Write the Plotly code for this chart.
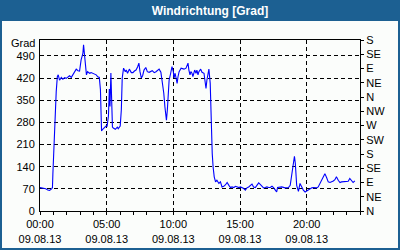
import pandas as pd
import plotly.graph_objects as go

# ---- data (minutes after 00:00 on 09.08.2013, wind direction in degrees) ----
minutes = [0, 8, 17, 26, 35, 43, 52, 56, 58, 63, 69, 73, 78, 82, 88, 96, 103, 111, 118, 126,
           133, 141, 148, 156, 163, 171, 178, 185, 193, 196, 200, 205, 209, 214, 223, 230, 238,
           245, 253, 260, 267, 272, 275, 277, 282, 290, 297, 302, 308, 312, 315, 319, 322, 326,
           330, 339, 348, 352, 361, 366, 370, 376, 384, 388, 394, 402, 411, 418, 425, 432, 439,
           445, 450, 456, 462, 468, 476, 483, 491, 505, 514, 522, 536, 544, 549, 557, 562, 569,
           573, 581, 588, 594, 600, 603, 608, 612, 617, 621, 626, 635, 648, 657, 666, 670, 675,
           679, 684, 688, 696, 702, 706, 711, 715, 723, 729, 738, 742, 747, 751, 756, 760, 766,
           769, 775, 779, 784, 790, 796, 805, 812, 819, 827, 835, 842, 850, 857, 864, 872, 880,
           887, 895, 902, 909, 917, 924, 931, 939, 947, 954, 961, 969, 976, 984, 991, 999, 1006,
           1014, 1021, 1029, 1036, 1044, 1051, 1059, 1065, 1069, 1073, 1088, 1103, 1118, 1126,
           1133, 1139, 1145, 1149, 1153, 1155, 1163, 1170, 1178, 1185, 1193, 1200, 1208, 1215,
           1223, 1230, 1238, 1245, 1252, 1260, 1267, 1275, 1282, 1290, 1297, 1305, 1312, 1320,
           1327, 1334, 1342, 1350, 1357, 1364, 1372, 1379, 1387, 1394, 1402, 1409, 1417]
direction = [74, 73, 72, 70, 66, 65, 70, 74, 118, 214, 308, 377, 424, 430, 413, 422, 416, 421, 419, 422,
             427, 422, 432, 440, 448, 443, 442, 477, 498, 525, 488, 445, 430, 440, 435, 437, 435,
             432, 430, 424, 422, 382, 329, 253, 258, 264, 268, 268, 300, 385, 330, 436, 380, 265,
             262, 258, 265, 260, 268, 320, 420, 451, 440, 445, 435, 448, 437, 437, 442, 445, 455,
             467, 440, 420, 428, 445, 453, 440, 438, 443, 437, 440, 448, 438, 413, 372, 329, 287,
             318, 413, 435, 456, 440, 420, 435, 413, 403, 424, 440, 451, 448, 451, 467, 445, 430,
             440, 435, 424, 445, 435, 445, 430, 440, 448, 438, 435, 416, 387, 413, 435, 448, 403,
             287, 182, 139, 108, 92, 97, 87, 92, 76, 78, 83, 90, 81, 74, 76, 74, 78,
             76, 74, 76, 74, 71, 66, 73, 76, 81, 85, 76, 74, 81, 89, 84, 78, 73,
             74, 76, 74, 74, 78, 74, 66, 60, 74, 74, 76, 73, 74, 81,
             118, 150, 173, 150, 108, 81, 62, 87, 76, 66, 60, 63, 66, 71,
             73, 74, 74, 73, 76, 87, 99, 108, 118, 105, 92, 90, 92, 95,
             99, 108, 97, 90, 92, 92, 94, 92, 94, 103, 97, 90, 95]

left_ticks = [0, 70, 140, 210, 280, 350, 420, 490]
right_ticks = [0, 45, 90, 135, 180, 225, 270, 315, 360, 405, 450, 495, 540]
right_labels = ["N", "NE", "E", "SE", "S", "SW", "W", "NW", "N", "NE", "E", "SE", "S"]

title_text = "Windrichtung [Grad]"
unit_text = "Grad"

times = pd.Timestamp("2013-08-09") + pd.to_timedelta(minutes, unit="m")

BLUE = "#1c6092"
WHITE = "#fbfdfb"
FONT = "Liberation Sans, Arial, sans-serif"

fig = go.Figure()
fig.add_trace(go.Scatter(x=times, y=direction, mode="lines",
                         line=dict(color="#0000ff", width=1.1), showlegend=False,
                         hoverinfo="skip"))
fig.add_trace(go.Scatter(x=times, y=direction, mode="lines", yaxis="y2",
                         line=dict(color="rgba(0,0,0,0)", width=0), showlegend=False,
                         hoverinfo="skip"))

W, H = 400, 250
L, R, T, B = 40, 40, 40, 39
pw, ph = W - L - R, H - T - B

def px_x(p):
    return (p - L) / pw

def px_y(p):
    return (H - B - p) / ph

fig.add_shape(type="rect", xref="paper", yref="paper",
              x0=px_x(2), x1=px_x(398), y0=px_y(248), y1=px_y(21),
              fillcolor=WHITE, line=dict(width=0), layer="below")

fig.add_annotation(text=unit_text, xref="paper", yref="paper",
                   x=px_x(36), y=px_y(50), xanchor="right", yanchor="bottom",
                   borderpad=0, showarrow=False,
                   font=dict(family=FONT, size=11, color="black"))

fig.update_layout(
    width=W, height=H,
    margin=dict(l=L, r=R, t=T, b=B, pad=0, autoexpand=False),
    paper_bgcolor=BLUE, plot_bgcolor=WHITE,
    font=dict(family=FONT, size=11, color="black"),
    title=dict(text="<b>" + title_text + "</b>", x=210 / W, y=1 - 10.5 / H,
               xref="container", yref="container", xanchor="center", yanchor="middle",
               font=dict(family=FONT, size=12, color="white"), automargin=False),
    xaxis=dict(
        range=[pd.Timestamp("2013-08-09 00:00"), pd.Timestamp("2013-08-10 00:00")],
        tickmode="linear", tick0=pd.Timestamp("2013-08-09 00:00"), dtick=5 * 3600000,
        tickformat="%H:%M<br>%d.%m.%y",
        ticks="outside", ticklen=3, tickcolor="black",
        minor=dict(dtick=3600000, ticks="outside", ticklen=3, tickcolor="black", showgrid=False),
        showgrid=True, gridcolor="black", gridwidth=1, griddash="4px,3px",
        showline=True, linecolor="black", linewidth=1, mirror=True,
        zeroline=False, tickfont=dict(size=11), automargin=False,
    ),
    yaxis=dict(
        range=[0, 540], tickmode="array", tickvals=left_ticks,
        ticks="", showgrid=True, gridcolor="black", gridwidth=1, griddash="4px,3px",
        showline=True, linecolor="black", linewidth=1, mirror=True,
        zeroline=False, tickfont=dict(size=11), ticklabelstandoff=2, automargin=False,
    ),
    yaxis2=dict(
        range=[0, 540], overlaying="y", side="right", tickmode="array",
        tickvals=right_ticks, ticktext=right_labels,
        ticks="outside", ticklen=3, tickcolor="black", showgrid=False,
        showline=True, linecolor="black", linewidth=1, zeroline=False,
        tickfont=dict(size=11), automargin=False,
    ),
)

fig.write_html("out.html")
